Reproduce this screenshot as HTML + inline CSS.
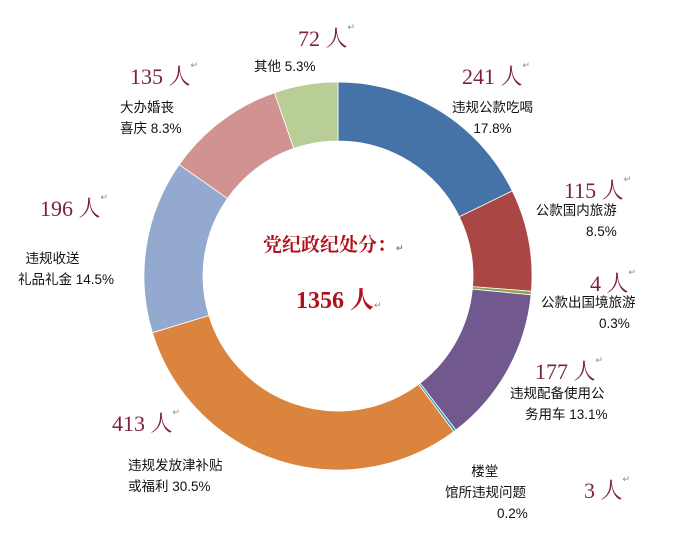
<!DOCTYPE html>
<html><head><meta charset="utf-8"><style>
body{margin:0;background:#fff;width:684px;height:536px;overflow:hidden;position:relative;font-family:"Liberation Sans","Noto Sans CJK SC",sans-serif}
.n{position:absolute;font-family:"Liberation Serif","Noto Serif CJK SC",serif;font-size:22px;color:#7b1f45;white-space:nowrap}
.n i{font-style:normal;font-size:9px;color:#888;vertical-align:top}
.t{position:absolute;font-size:13.5px;color:#111;white-space:nowrap;line-height:21px}
</style></head><body>
<svg width="684" height="536" style="position:absolute;left:0;top:0" id="s"></svg>
<div class="n" style="left:298px;top:22px">72 人<i>↵</i></div>
<div class="t" style="left:254px;top:56px">其他 5.3%</div>
<div class="n" style="left:130px;top:60px">135 人<i>↵</i></div>
<div class="t" style="left:120px;top:97px;text-align:left">大办婚丧<br>喜庆 8.3%</div>
<div class="n" style="left:462px;top:60px">241 人<i>↵</i></div>
<div class="t" style="left:452px;top:97px;text-align:center">违规公款吃喝<br>17.8%</div>
<div class="n" style="left:40px;top:192px">196 人<i>↵</i></div>
<div class="t" style="left:18px;top:248px;text-align:left">&nbsp;&nbsp;违规收送<br>礼品礼金 14.5%</div>
<div class="n" style="left:564px;top:174px">115 人<i>↵</i></div>
<div class="t" style="left:532px;top:200px;text-align:right">公款国内旅游<br><span style="padding-left:54px">8.5%</span></div>
<div class="n" style="left:590px;top:267px">4 人<i>↵</i></div>
<div class="t" style="left:541px;top:292px">公款出国境旅游<br><span style="padding-left:58px">0.3%</span></div>
<div class="n" style="left:535px;top:355px">177 人<i>↵</i></div>
<div class="t" style="left:510px;top:383px">违规配备使用公<br><span style="padding-left:15px">务用车 13.1%</span></div>
<div class="n" style="left:112px;top:407px">413 人<i>↵</i></div>
<div class="t" style="left:128px;top:455px">违规发放津补贴<br>或福利 30.5%</div>
<div class="t" style="left:445px;top:461px">&nbsp;&nbsp;&nbsp;&nbsp;&nbsp;&nbsp;&nbsp;楼堂<br>馆所违规问题<br><span style="padding-left:52px">0.2%</span></div>
<div class="n" style="left:584px;top:474px">3 人<i>↵</i></div>
<div style="position:absolute;left:263px;top:230px;font-family:'Noto Serif CJK SC',serif;font-weight:bold;font-size:19px;color:#b0101a">党纪政纪处分：<span style="font-size:9px;color:#888">↵</span></div>
<div style="position:absolute;left:296px;top:280px;font-family:'Liberation Serif','Noto Serif CJK SC',serif;font-weight:bold;font-size:24px;color:#b0101a">1356 人<span style="font-size:9px;color:#888;font-weight:normal">↵</span></div>
<script>
var v=[241,115,4,177,3,413,196,135,72],c=["#4572a7","#aa4643","#89a54e","#71588f","#4198af","#db843d","#93a9cf","#d19392","#b9cd96"];
var cx=338,cy=276,R=194,r=135,T=1356,a=0,h="";
function p(ang,rad){return (cx+rad*Math.sin(ang)).toFixed(2)+","+(cy-rad*Math.cos(ang)).toFixed(2)}
for(var i=0;i<v.length;i++){var b=a+v[i]/T*2*Math.PI,l=(b-a)>Math.PI?1:0;
h+='<path d="M'+p(a,R)+'A'+R+','+R+' 0 '+l+' 1 '+p(b,R)+'L'+p(b,r)+'A'+r+','+r+' 0 '+l+' 0 '+p(a,r)+'Z" fill="'+c[i]+'" stroke="#fff" stroke-width="0.8"/>';a=b;}
document.getElementById("s").innerHTML=h;
</script>
</body></html>
